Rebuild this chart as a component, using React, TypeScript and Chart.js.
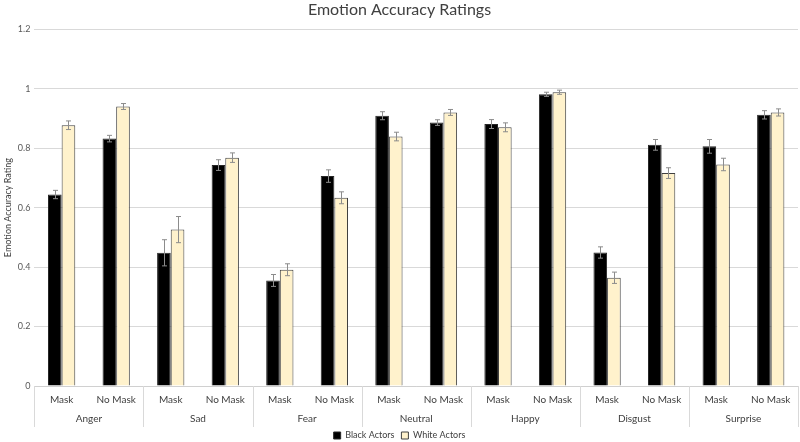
import React, { useEffect, useRef } from "react";
import { Chart, registerables } from "chart.js";

Chart.register(...registerables);

const subLabels = [
  "Mask", "No Mask", "Mask", "No Mask", "Mask", "No Mask", "Mask", "No Mask",
  "Mask", "No Mask", "Mask", "No Mask", "Mask", "No Mask",
];
const emotions = ["Anger", "Sad", "Fear", "Neutral", "Happy", "Disgust", "Surprise"];

const blackValues = [0.644, 0.832, 0.448, 0.743, 0.355, 0.706, 0.909, 0.886, 0.881, 0.981, 0.449, 0.811, 0.806, 0.912];
const blackErrors = [0.014, 0.011, 0.044, 0.018, 0.02, 0.021, 0.0135, 0.0095, 0.015, 0.007, 0.019, 0.018, 0.023, 0.014];
const whiteValues = [0.877, 0.94, 0.526, 0.768, 0.391, 0.633, 0.839, 0.92, 0.87, 0.988, 0.364, 0.716, 0.745, 0.92];
const whiteErrors = [0.0145, 0.01, 0.044, 0.016, 0.02, 0.02, 0.0145, 0.01, 0.015, 0.007, 0.019, 0.018, 0.021, 0.012];

const FONT = "Lato, 'Open Sans', sans-serif";

const errorBarPlugin = {
  id: "errorBars",
  afterDatasetsDraw(chart: any) {
    const ctx = chart.ctx;
    const y = chart.scales.y;
    chart.data.datasets.forEach((ds: any, di: number) => {
      const meta = chart.getDatasetMeta(di);
      if (meta.hidden) return;
      const errs: number[] = ds.errors || [];
      meta.data.forEach((bar: any, i: number) => {
        const v = ds.data[i];
        const e = errs[i] || 0;
        const top = y.getPixelForValue(v + e);
        const bot = y.getPixelForValue(v - e);
        const x = Math.round(bar.x) + 0.5;
        ctx.save();
        ctx.strokeStyle = "#8c8c8c";
        ctx.lineWidth = 1;
        ctx.beginPath();
        ctx.moveTo(x, top);
        ctx.lineTo(x, bot);
        ctx.moveTo(x - 2.5, top);
        ctx.lineTo(x + 2.5, top);
        ctx.moveTo(x - 2.5, bot);
        ctx.lineTo(x + 2.5, bot);
        ctx.stroke();
        ctx.restore();
      });
    });
  },
};

const separatorPlugin = {
  id: "groupSeparators",
  afterDraw(chart: any) {
    const ctx = chart.ctx;
    const xs = chart.scales.x;
    const x2 = chart.scales.x2;
    const half = (xs.getPixelForValue(1) - xs.getPixelForValue(0)) / 2;
    const top = chart.chartArea.bottom;
    const bottom = x2.bottom + 3;
    ctx.save();
    ctx.strokeStyle = "#d9d9d9";
    ctx.lineWidth = 1;
    ctx.beginPath();
    for (let i = 0; i <= subLabels.length; i += 2) {
      const px = i < subLabels.length ? xs.getPixelForValue(i) - half : xs.getPixelForValue(subLabels.length - 1) + half;
      const xx = Math.round(px) + 0.5;
      ctx.moveTo(xx, top);
      ctx.lineTo(xx, bottom);
    }
    ctx.stroke();
    ctx.restore();
  },
};

export default function App() {
  const ref = useRef<HTMLCanvasElement | null>(null);

  useEffect(() => {
    if (!ref.current) return;
    const chart = new Chart(ref.current, {
      type: "bar",
      data: {
        labels: subLabels,
        datasets: [
          {
            label: "Black Actors",
            data: blackValues,
            errors: blackErrors,
            backgroundColor: "#000000",
            borderColor: "#262626",
            borderWidth: 1,
            categoryPercentage: 0.5,
            barPercentage: 1,
          } as any,
          {
            label: "White Actors",
            data: whiteValues,
            errors: whiteErrors,
            backgroundColor: "#FFF2CC",
            borderColor: "#404040",
            borderWidth: 1,
            categoryPercentage: 0.5,
            barPercentage: 1,
          } as any,
        ],
      },
      options: {
        animation: false,
        responsive: true,
        maintainAspectRatio: false,
        layout: { padding: { top: 0, right: 2, left: 1, bottom: -8 } },
        plugins: {
          title: {
            display: true,
            text: "Emotion Accuracy Ratings",
            color: "#404040",
            font: { family: FONT, size: 16, weight: "normal" },
            padding: { top: 0, bottom: 10 },
          },
          legend: {
            position: "bottom",
            labels: {
              boxWidth: 7,
              boxHeight: 7,
              color: "#404040",
              font: { family: FONT, size: 9 },
              padding: 7,
            },
          },
          tooltip: { enabled: false },
        },
        scales: {
          x: {
            type: "category",
            position: "bottom",
            grid: { display: true, drawOnChartArea: false, drawTicks: false },
            border: { display: true, color: "#d0d0d0" },
            ticks: { color: "#404040", font: { family: FONT, size: 10 }, padding: 8, maxRotation: 0, autoSkip: false },
          },
          x2: {
            type: "category",
            position: "bottom",
            labels: emotions,
            offset: true,
            grid: { display: false, drawTicks: false },
            border: { display: false },
            ticks: { color: "#404040", font: { family: FONT, size: 10 }, padding: -1, maxRotation: 0, autoSkip: false },
          },
          y: {
            min: 0,
            max: 1.2,
            ticks: {
              stepSize: 0.2,
              color: "#595959",
              font: { family: FONT, size: 9 },
              padding: 4,
              callback: (v: any) => String(Number(Number(v).toFixed(1))),
            },
            grid: { color: "#d9d9d9", drawTicks: false },
            border: { display: false },
            title: {
              display: true,
              text: "Emotion Accuracy Rating",
              color: "#404040",
              font: { family: FONT, size: 9 },
              padding: { top: 2, bottom: 0 },
            },
          },
        },
      } as any,
      plugins: [errorBarPlugin, separatorPlugin],
    });
    return () => chart.destroy();
  }, []);

  return (
    <div style={{ position: "fixed", left: 0, top: 0, width: 800, height: 442, background: "#fff" }}>
      <canvas ref={ref} />
    </div>
  );
}
